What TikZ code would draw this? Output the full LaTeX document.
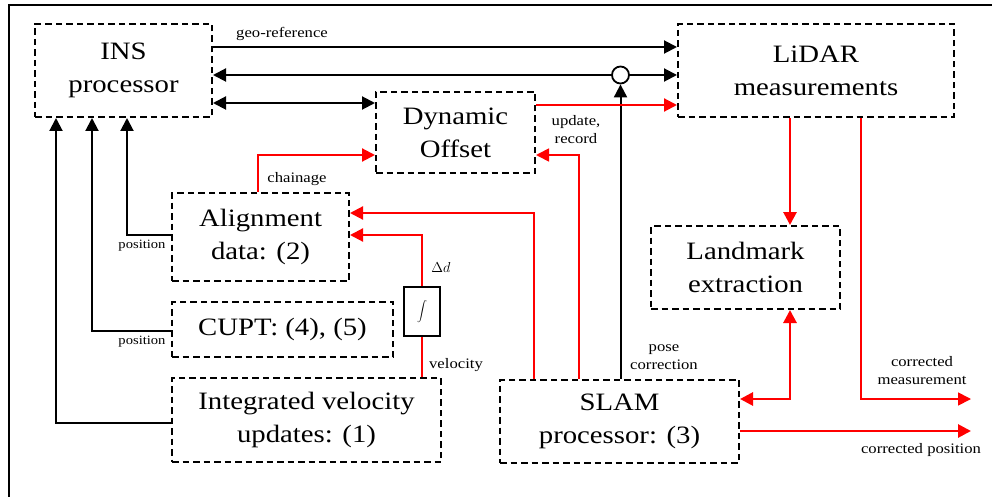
\documentclass[tikz,border=0pt]{standalone}
\usepackage{fontspec}
\setmainfont{Liberation Serif}[FakeStretch=1.15]
\usetikzlibrary{arrows.meta}
\newcommand{\bigfnt}{\rmfamily\fontsize{25}{33}\selectfont}
\newcommand{\smallfnt}{\rmfamily\fontsize{14.5}{18}\selectfont}
\newcommand{\tinyfnt}{\rmfamily\fontsize{12.7}{15}\selectfont}
\definecolor{lred}{RGB}{255,0,0}
\tikzset{
  box/.style={draw, dash pattern=on 6.5pt off 4pt, line width=2pt, align=center, inner sep=0pt, font=\bigfnt},
  lbl/.style={font=\smallfnt, align=center, inner sep=0pt},
  tiplbl/.style={font=\tinyfnt, align=center, inner sep=0pt},
  tip/.tip={Triangle[length=13pt,width=13pt]},
  blk/.style={line width=2pt, black},
  redthick/.style={line width=2.8pt, lred},
  redmid/.style={line width=2.1pt, lred},
  redthin/.style={line width=1.7pt, lred},
}
\begin{document}
\begin{tikzpicture}[x=1pt,y=-1pt]
\useasboundingbox (0,0) rectangle (992,497);
% frame
\coordinate (fa) at (992,5);
\coordinate (fb) at (9,5);
\coordinate (fc) at (9,497);
\draw[line width=2pt] (fa) -- (fb) -- (fc);

% boxes
\node[box, minimum width=177pt, minimum height=93pt] (ins) at (123.5,70.5) {INS\\processor};
\node[box, minimum width=276pt, minimum height=93pt] (lidar) at (816,70.5) {LiDAR\\measurements};
\node[box, minimum width=159pt, minimum height=81pt] (dyn) at (455.5,132.5) {Dynamic\\Offset};
\node[box, minimum width=177pt, minimum height=88pt] (align) at (260.5,237) {Alignment\\data: (2)};
\node[box, minimum width=221pt, minimum height=55pt] (cupt) at (282.5,329.5) {CUPT: (4), (5)};
\node[draw, line width=1.6pt, minimum width=36pt, minimum height=49pt, inner sep=0pt, font=\fontsize{20}{22}\selectfont] (integ) at (422,311.5) {$\displaystyle\int$};
\node[box, minimum width=269pt, minimum height=84pt] (ivu) at (306.5,420) {Integrated velocity\\updates: (1)};
\node[box, minimum width=239pt, minimum height=83pt] (slam) at (619.5,421) {SLAM\\processor: (3)};
\node[box, minimum width=189pt, minimum height=83pt] (land) at (745.5,267.5) {Landmark\\extraction};
\node[draw, circle, line width=1.8pt, minimum size=17pt, inner sep=0pt, fill=white] (circ) at (620.5,75) {};

% helper levels
\coordinate (yGeo) at (0,47);
\coordinate (yA) at (0,103);
\coordinate (yB) at (0,105);
\coordinate (yC) at (0,155);
\coordinate (yD) at (0,213);
\coordinate (yE) at (0,235);
\coordinate (yF) at (0,399);
\coordinate (yG) at (0,431);
\coordinate (yH) at (0,331);
\coordinate (yI) at (0,423);
\coordinate (xP1) at (127,0);
\coordinate (xP2) at (92,0);
\coordinate (xP3) at (56,0);
\coordinate (xL) at (790,0);
\coordinate (xM) at (861,0);
\coordinate (xS1) at (534,0);
\coordinate (xS2) at (579,0);
\coordinate (xCh) at (258,0);
\coordinate (outM) at (971,399);
\coordinate (outP) at (971,431);

% black connectors
\draw[blk, -tip] (ins.east |- yGeo) -- (lidar.west |- yGeo);
\draw[blk, -tip] (circ.west) -- (ins.east |- circ);
\draw[blk, -tip] (circ.east) -- (lidar.west |- circ);
\draw[blk, -tip] (circ |- slam.north) -- (circ.south);
\draw[blk, tip-tip] (ins.east |- yA) -- (dyn.west |- yA);
\draw[blk, -tip] (align.west |- yE) -| (ins.south -| xP1);
\draw[blk, -tip] (cupt.west |- yH) -| (ins.south -| xP2);
\draw[blk, -tip] (ivu.west |- yI) -| (ins.south -| xP3);

% red connectors
\draw[redmid, -tip] (dyn.east |- yB) -- (lidar.west |- yB);
\draw[redmid, -tip] (align.north -| xCh) |- (dyn.west |- yC);
\draw[redthin, -tip] (slam.north -| xS2) |- (dyn.east |- yC);
\draw[redmid, -tip] (slam.north -| xS1) |- (align.east |- yD);
\draw[redmid, -tip] (integ.north) |- (align.east |- yE);
\draw[redmid] (ivu.north -| integ.south) -- (integ.south);
\draw[redthick, -tip] (lidar.south -| xL) -- (land.north -| xL);
\draw[redthin, -tip] (lidar.south -| xM) |- (outM);
\draw[redthick, tip-tip] (land.south -| xL) |- (slam.east |- yF);
\draw[redthick, -tip] (slam.east |- yG) -- (outP);

% labels
\node[lbl] (lgeo) at (282,34) {geo-reference};
\node[lbl] (lch) at (297,179) {chainage};
\node[tiplbl] (lpos1) at (142,246) {position};
\node[tiplbl] (lpos2) at (142,342) {position};
\node[lbl] (ldd) at (441,267) {$\Delta d$};
\node[lbl] (lvel) at (456,365) {velocity};
\node[lbl] (lupd) at (576,130) {update,\\record};
\node[lbl] (lpose) at (664,357) {pose\\correction};
\node[lbl] (lcm) at (922,371) {corrected\\measurement};
\node[lbl] (lcp) at (921,450) {corrected position};
\end{tikzpicture}
\end{document}
